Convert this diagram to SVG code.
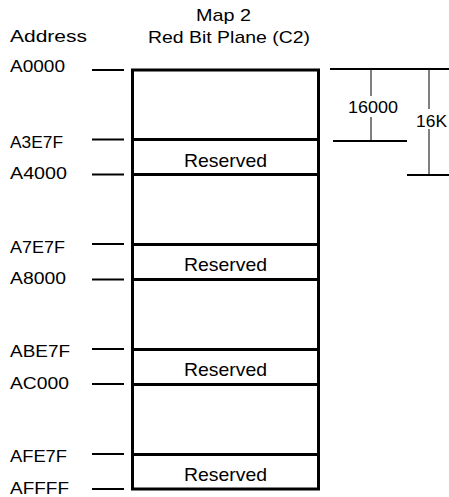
<svg xmlns="http://www.w3.org/2000/svg" width="449" height="497" viewBox="0 0 449 497">
<style>
text{font-family:"Liberation Sans",Arial,sans-serif;fill:#000}
.lbl{font-size:17px}
.hd{font-size:17px}
.res{font-size:19px;text-anchor:middle}
.box{fill:#fff;stroke:#000;stroke-width:3}
.div{stroke:#000;stroke-width:3}
.tick{stroke:#000;stroke-width:2}
.dim{stroke:#000;stroke-width:2}
.dimv{stroke:#000;stroke-width:1}
</style>
<rect width="449" height="497" fill="#fff"/>
<g id="headers">
<text class="hd" x="10" y="42" textLength="77" lengthAdjust="spacingAndGlyphs">Address</text>
<text class="hd" x="196" y="21" textLength="55" lengthAdjust="spacingAndGlyphs">Map 2</text>
<text class="hd" x="148" y="42.5" textLength="162" lengthAdjust="spacingAndGlyphs">Red Bit Plane (C2)</text>
</g>
<g id="map">
<rect class="box" x="132.5" y="70" width="186" height="419"/>
</g>
<g id="free1"></g>
<g id="reserved1">
<line class="div" x1="132.5" y1="139.5" x2="318.5" y2="139.5"/>
<line class="div" x1="132.5" y1="174.5" x2="318.5" y2="174.5"/>
<text class="res" x="225.5" y="167" textLength="83" lengthAdjust="spacingAndGlyphs">Reserved</text>
</g>
<g id="reserved2">
<line class="div" x1="132.5" y1="244.5" x2="318.5" y2="244.5"/>
<line class="div" x1="132.5" y1="279.5" x2="318.5" y2="279.5"/>
<text class="res" x="225.5" y="271" textLength="83" lengthAdjust="spacingAndGlyphs">Reserved</text>
</g>
<g id="reserved3">
<line class="div" x1="132.5" y1="349.5" x2="318.5" y2="349.5"/>
<line class="div" x1="132.5" y1="384.5" x2="318.5" y2="384.5"/>
<text class="res" x="225.5" y="376" textLength="83" lengthAdjust="spacingAndGlyphs">Reserved</text>
</g>
<g id="reserved4">
<line class="div" x1="132.5" y1="454.5" x2="318.5" y2="454.5"/>
<text class="res" x="225.5" y="480.5" textLength="83" lengthAdjust="spacingAndGlyphs">Reserved</text>
</g>
<g id="addresses">
<text class="lbl" x="10" y="72" textLength="55" lengthAdjust="spacingAndGlyphs">A0000</text>
<text class="lbl" x="10" y="147.5" textLength="53" lengthAdjust="spacingAndGlyphs">A3E7F</text>
<text class="lbl" x="10" y="178.5" textLength="57" lengthAdjust="spacingAndGlyphs">A4000</text>
<text class="lbl" x="10" y="253" textLength="55" lengthAdjust="spacingAndGlyphs">A7E7F</text>
<text class="lbl" x="10" y="283.5" textLength="56" lengthAdjust="spacingAndGlyphs">A8000</text>
<text class="lbl" x="10" y="357" textLength="60" lengthAdjust="spacingAndGlyphs">ABE7F</text>
<text class="lbl" x="10" y="389" textLength="59" lengthAdjust="spacingAndGlyphs">AC000</text>
<text class="lbl" x="10" y="462" textLength="57" lengthAdjust="spacingAndGlyphs">AFE7F</text>
<text class="lbl" x="10" y="493.5" textLength="59" lengthAdjust="spacingAndGlyphs">AFFFF</text>
</g>
<g id="connectors">
<line class="tick" x1="92" y1="70" x2="124" y2="70"/>
<line class="tick" x1="92" y1="139.5" x2="124" y2="139.5" stroke-width="1.5"/>
<line class="tick" x1="92" y1="174.5" x2="124" y2="174.5"/>
<line class="tick" x1="92" y1="244" x2="124" y2="244"/>
<line class="tick" x1="92" y1="279.5" x2="124" y2="279.5" stroke-width="1.5"/>
<line class="tick" x1="92" y1="349" x2="124" y2="349"/>
<line class="tick" x1="92" y1="384" x2="124" y2="384"/>
<line class="tick" x1="92" y1="454" x2="124" y2="454"/>
<line class="tick" x1="92" y1="489" x2="124" y2="489"/>
<line class="dim" x1="330" y1="69" x2="449" y2="69"/>
<line class="dim" x1="333" y1="141" x2="407" y2="141"/>
<line class="dim" x1="407" y1="175" x2="449" y2="175"/>
<line class="dimv" x1="371" y1="69" x2="371" y2="96"/>
<line class="dimv" x1="371" y1="117" x2="371" y2="141"/>
<line class="dimv" x1="429" y1="69" x2="429" y2="109"/>
<line class="dimv" x1="429" y1="129" x2="429" y2="175"/>
</g>
<g id="dimensions">
<text class="lbl" x="348" y="113" textLength="50" lengthAdjust="spacingAndGlyphs">16000</text>
<text class="lbl" x="416" y="126.5" font-size="18" textLength="31" lengthAdjust="spacingAndGlyphs">16K</text>
</g>
</svg>
